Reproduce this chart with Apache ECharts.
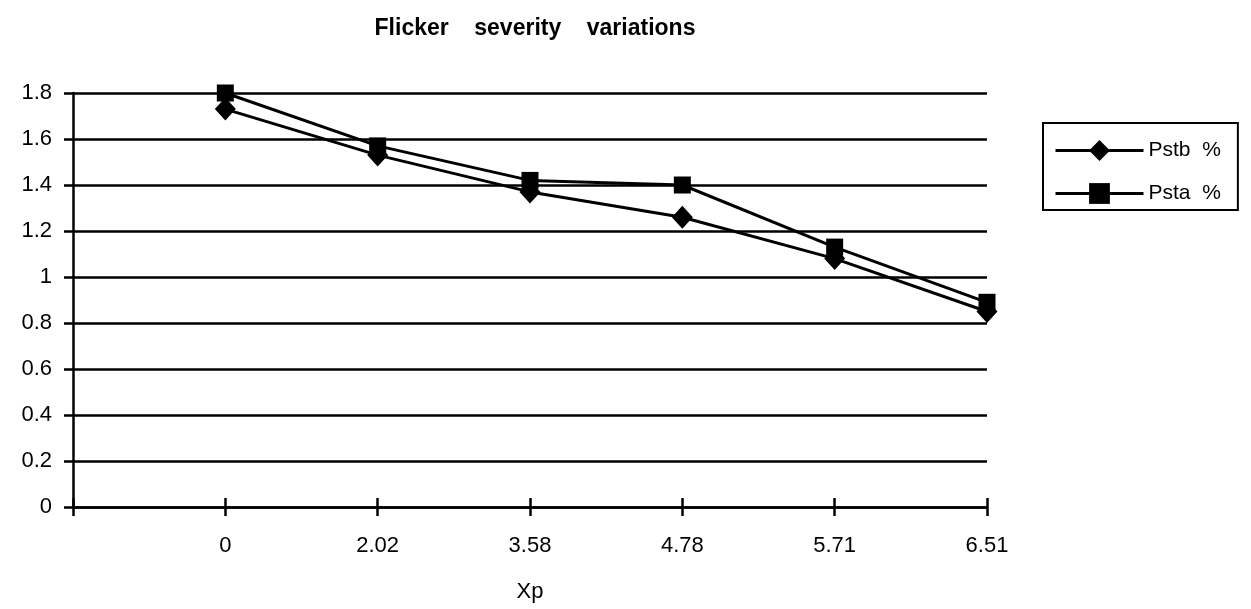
<!DOCTYPE html>
<html>
<head>
<meta charset="utf-8">
<script src="https://cdn.jsdelivr.net/npm/echarts@6/dist/echarts.min.js"></script>
<style>
  html, body { margin: 0; padding: 0; background: #fff; }
  #chart { width: 1251px; height: 609px; }
</style>
</head>
<body>
<div id="chart"></div>
<script>
// Xp values (first slot is the empty start of the axis)
const categories = ['', '0', '2.02', '3.58', '4.78', '5.71', '6.51'];
const pstb = [null, 1.73, 1.53, 1.37, 1.26, 1.08, 0.85];
const psta = [null, 1.80, 1.57, 1.42, 1.40, 1.13, 0.89];

const font = 'Liberation Sans, Arial, sans-serif';

const chart = echarts.init(document.getElementById('chart'));

chart.setOption({
    animation: false,
    backgroundColor: '#fff',
    title: {
        text: 'Flicker    severity    variations',
        left: 530,
        textAlign: 'center',
        top: 12,
        textStyle: { fontFamily: font, fontSize: 23, fontWeight: 'bold', color: '#000' }
    },
    legend: {
        orient: 'vertical',
        left: 1043,
        top: 123,
        padding: [17, 17, 6, 11],
        itemGap: 22,
        itemWidth: 88,
        itemHeight: 26,
        borderColor: '#000',
        borderWidth: 2,
        borderRadius: 0,
        lineStyle: { width: 3, color: '#000' },
        textStyle: { fontFamily: font, fontSize: 21, color: '#000' },
        data: ['Pstb  %', 'Psta  %']
    },
    grid: { left: 73, right: 264, top: 93, bottom: 102, outerBoundsMode: 'none' },
    xAxis: [{
        type: 'category',
        data: categories,
        boundaryGap: false,
        name: 'Xp',
        nameLocation: 'middle',
        nameGap: 74,
        nameTextStyle: { fontFamily: font, fontSize: 22, color: '#000' },
        axisLine: { lineStyle: { color: '#000', width: 2.5 } },
        axisTick: { length: 9, lineStyle: { color: '#000', width: 2.5 } },
        axisLabel: { fontFamily: font, fontSize: 22, color: '#000', margin: 28 },
        splitLine: { show: false }
    }, {
        type: 'category',
        data: categories,
        boundaryGap: false,
        position: 'bottom',
        axisLine: { show: false },
        axisTick: { inside: true, length: 9, lineStyle: { color: '#000', width: 2.5 } },
        axisLabel: { show: false },
        splitLine: { show: false }
    }],
    yAxis: {
        type: 'value',
        min: 0,
        max: 1.8,
        interval: 0.2,
        axisLine: { show: true, lineStyle: { color: '#000', width: 2.5 } },
        axisTick: { show: true, length: 9, lineStyle: { color: '#000', width: 2.5 } },
        axisLabel: {
            fontFamily: font, fontSize: 22, color: '#000', margin: 21,
            formatter: v => String(Math.round(v * 10) / 10)
        },
        splitLine: { show: true, lineStyle: { color: '#000', width: 2.5 } }
    },
    series: [{
        name: 'Pstb  %',
        type: 'line',
        data: pstb,
        symbol: 'diamond',
        symbolSize: [21, 23],
        showAllSymbol: true,
        itemStyle: { color: '#000' },
        lineStyle: { color: '#000', width: 3 }
    }, {
        name: 'Psta  %',
        type: 'line',
        data: psta,
        symbol: 'rect',
        symbolSize: 17,
        showAllSymbol: true,
        itemStyle: { color: '#000' },
        lineStyle: { color: '#000', width: 3 }
    }]
});
</script>
</body>
</html>
